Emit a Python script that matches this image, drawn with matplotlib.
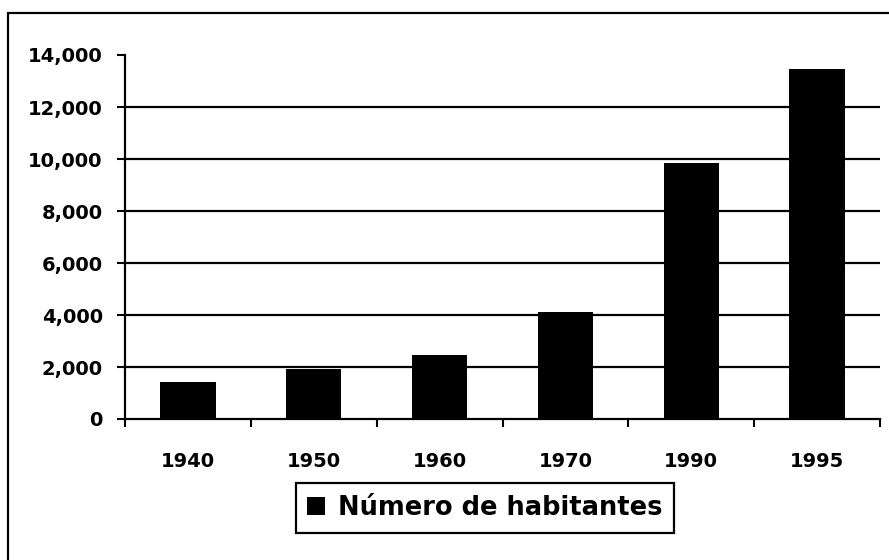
import matplotlib.pyplot as plt
import numpy as np
from matplotlib.patches import Rectangle
from matplotlib.ticker import FuncFormatter

plt.rcParams.update({'font.family': ['DejaVu Sans'], 'font.weight': 'bold'})

years = ['1940', '1950', '1960', '1970', '1990', '1995']
habitantes = [1430, 1920, 2460, 4100, 9830, 13450]
yticks = np.arange(0, 14001, 2000)

fig = plt.figure(figsize=(8.89, 5.6), dpi=100)
ax = fig.add_axes([125/889, 1-419/560, 755/889, 364/560])

x = np.arange(len(years))
ax.bar(x, habitantes, width=0.44, color='black', label='Número de habitantes', zorder=3)

ax.set_xlim(-0.5, len(years)-0.5)
ax.set_ylim(0, 14000)
ax.set_yticks(yticks)
ax.yaxis.set_major_formatter(FuncFormatter(lambda v, p: '{:,.0f}'.format(v)))
for yv in yticks[1:-1]:
    ax.axhline(yv, color='black', lw=1.6, zorder=2)

ax.set_xticks(x)
ax.set_xticklabels(years)
ax.set_xticks(np.arange(-0.5, len(years), 1), minor=True)
ax.tick_params(axis='x', which='major', length=0, pad=24, labelsize=14)
ax.tick_params(axis='x', which='minor', length=6, width=1.5, direction='out')
ax.tick_params(axis='y', length=6, width=1.5, pad=10, labelsize=14)

for s in ['top', 'right']:
    ax.spines[s].set_visible(False)
for s in ['left', 'bottom']:
    ax.spines[s].set_linewidth(1.6)

# outer frame of the picture
fig.add_artist(Rectangle((8/889, -0.05), 1.0, 1.05-13/560, transform=fig.transFigure,
                         fill=False, edgecolor='black', lw=1.6, clip_on=False))

leg = fig.legend(loc='center', bbox_to_anchor=(485/889, 1-508/560), fontsize=18.5,
                 frameon=True, fancybox=False, edgecolor='black', framealpha=1,
                 handlelength=0.7, handleheight=0.7, handletextpad=0.5,
                 borderpad=0.45, borderaxespad=0)
leg.get_frame().set_linewidth(1.6)

fig.savefig('out.png', dpi=100)
